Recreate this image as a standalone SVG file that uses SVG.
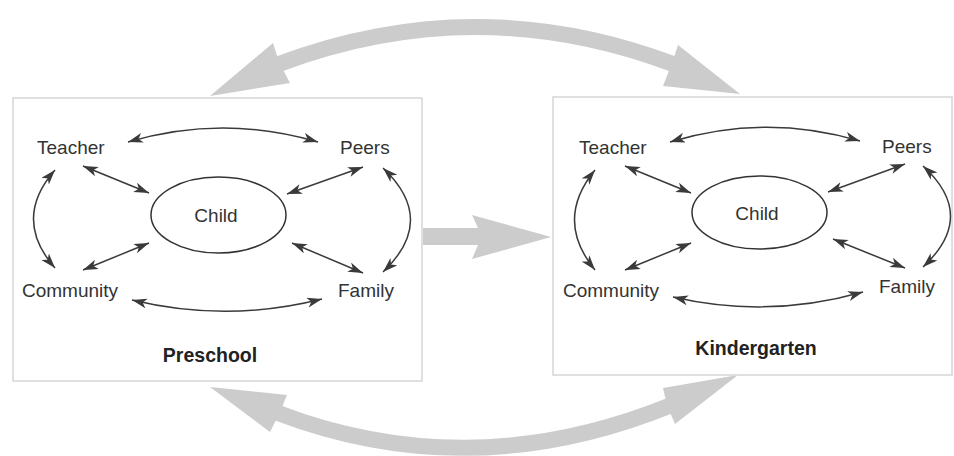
<svg xmlns="http://www.w3.org/2000/svg" width="954" height="456" viewBox="0 0 954 456">
<defs>
<marker id="ah" markerUnits="userSpaceOnUse" markerWidth="18" markerHeight="12" refX="15" refY="5" orient="auto-start-reverse">
<path d="M0,0 L15,5 L0,10 L4,5 z" fill="#3a3a3a"/>
</marker>
</defs>
<style>
.big{fill:#cccccc;stroke:none}
.band{fill:none;stroke:#cccccc;stroke-width:16}
.box{fill:#ffffff;stroke:#d6d6d6;stroke-width:1.5}
.conn{fill:none;stroke:#3a3a3a;stroke-width:1.5;marker-start:url(#ah);marker-end:url(#ah)}
.lbl{font-family:"Liberation Sans",Arial,sans-serif;font-size:19px;fill:#333333}
.ttl{font-family:"Liberation Sans",Arial,sans-serif;font-size:19.5px;font-weight:bold;fill:#222222}
.ell{fill:none;stroke:#333333;stroke-width:1.5}
</style>
<rect width="954" height="456" fill="#ffffff"/>
<g id="transitions">
<path class="band" d="M279,64 Q476,-10 673,64"/>
<polygon class="big" points="210,96 273,43 279,62 290,83"/>
<polygon class="big" points="740,94 678,45 672,63 663,86"/>
<path class="band" d="M278,413 Q470,486 669,406"/>
<polygon class="big" points="210,387 287,395 280,412 270,432"/>
<polygon class="big" points="738,375 663,388 667,405 675,424"/>
<polygon class="big" points="423,228 478,228 472,215 551,237 472,259 478,245 423,245"/>
</g>
<g id="preschool">
<rect class="box" x="13" y="98" width="409" height="283"/>
<text class="ttl" x="210" y="362" text-anchor="middle">Preschool</text>
</g>
<g id="kindergarten">
<rect class="box" x="553" y="97" width="399" height="278"/>
<text class="ttl" x="756" y="355" text-anchor="middle">Kindergarten</text>
</g>
<g id="p-teacher"><text class="lbl" x="37" y="154">Teacher</text></g>
<g id="p-peers"><text class="lbl" x="340" y="154">Peers</text></g>
<g id="p-child"><ellipse class="ell" cx="218.5" cy="215" rx="67.5" ry="38"/><text class="lbl" x="216" y="222" text-anchor="middle">Child</text></g>
<g id="p-community"><text class="lbl" x="22" y="297">Community</text></g>
<g id="p-family"><text class="lbl" x="338" y="297">Family</text></g>
<g id="k-teacher"><text class="lbl" x="579" y="154">Teacher</text></g>
<g id="k-peers"><text class="lbl" x="882" y="153">Peers</text></g>
<g id="k-child"><ellipse class="ell" cx="759.5" cy="212.5" rx="67.5" ry="36.5"/><text class="lbl" x="757" y="220" text-anchor="middle">Child</text></g>
<g id="k-community"><text class="lbl" x="563" y="297">Community</text></g>
<g id="k-family"><text class="lbl" x="879" y="293">Family</text></g>
<g id="connectors">
<path class="conn" d="M128,142 Q223,114 318,142"/>
<path class="conn" d="M132,300 Q227,323 322,299"/>
<path class="conn" d="M55,170 Q12,219 55,268"/>
<path class="conn" d="M383,168 Q438,220 383,272"/>
<path class="conn" d="M83,166 L149,193"/>
<path class="conn" d="M363,167 L287,194"/>
<path class="conn" d="M83,270 L149,243"/>
<path class="conn" d="M292,243 L363,273"/>
<path class="conn" d="M670,142 Q765,113 860,141"/>
<path class="conn" d="M673,297 Q768,319 863,292"/>
<path class="conn" d="M595,170 Q554,220 595,270"/>
<path class="conn" d="M923,166 Q978,216 923,267"/>
<path class="conn" d="M625,166 L691,193"/>
<path class="conn" d="M905,164 L828,192"/>
<path class="conn" d="M625,270 L691,243"/>
<path class="conn" d="M833,239 L905,268"/>
</g>
</svg>
